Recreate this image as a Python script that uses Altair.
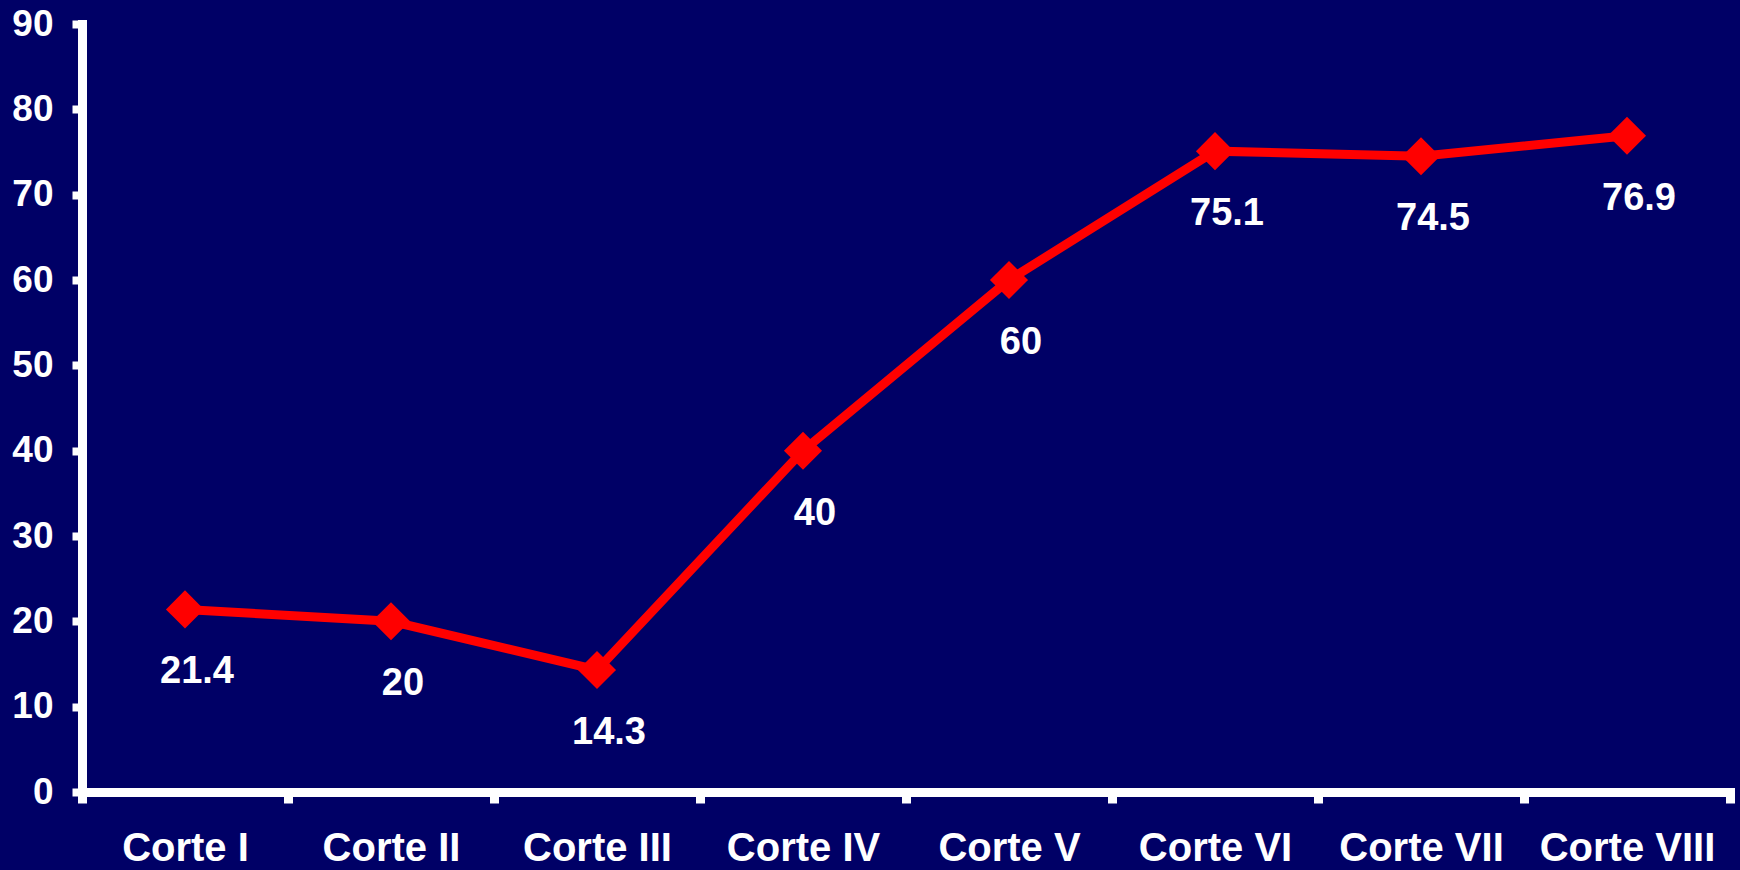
import altair as alt
import pandas as pd

categories = ["Corte I", "Corte II", "Corte III", "Corte IV", "Corte V", "Corte VI", "Corte VII", "Corte VIII"]
values = [21.4, 20, 14.3, 40, 60, 75.1, 74.5, 76.9]
labels = ["21.4", "20", "14.3", "40", "60", "75.1", "74.5", "76.9"]

df = pd.DataFrame({"cat": categories, "val": values, "lab": labels})

FONT = "Liberation Sans"

x = alt.X("cat:N", sort=categories, title=None,
          scale=alt.Scale(paddingInner=0, paddingOuter=0),
          axis=alt.Axis(labelAngle=0, tickBand="extent", domainColor="white", domainWidth=9,
                        tickColor="white", tickWidth=9, tickSize=11, labelPadding=25,
                        labelColor="white", labelFont=FONT, labelFontSize=40, labelFontWeight="bold",
                        grid=False, domainCap="square"))
y = alt.Y("val:Q", title=None,
          scale=alt.Scale(domain=[0, 90], nice=False),
          axis=alt.Axis(values=list(range(0, 91, 10)), domainColor="white", domainWidth=9,
                        tickColor="white", tickWidth=8, tickSize=10, labelPadding=19,
                        labelColor="white", labelFont=FONT, labelFontSize=37, labelFontWeight="bold",
                        grid=False, domainCap="square"))

base = alt.Chart(df)
line = base.mark_line(color="#FF0000", strokeWidth=9).encode(x=x, y=y)
pts = base.mark_point(shape="diamond", filled=True, color="#FF0000", size=1450, opacity=1).encode(x=x, y=y)
txt = base.mark_text(color="white", font=FONT, fontSize=38, fontWeight="bold", dx=12, dy=63).encode(
    x=x, y=y, text="lab:N")

chart = (line + pts + txt).properties(
    width=1648, height=768, background="#000066",
    autosize=alt.AutoSizeParams(type="none"),
    padding={"left": 82, "top": 24, "right": 10, "bottom": 78},
).configure_view(stroke=None, fill="#000066")

chart.save("out.html", embed_options={"renderer": "svg", "actions": False})
